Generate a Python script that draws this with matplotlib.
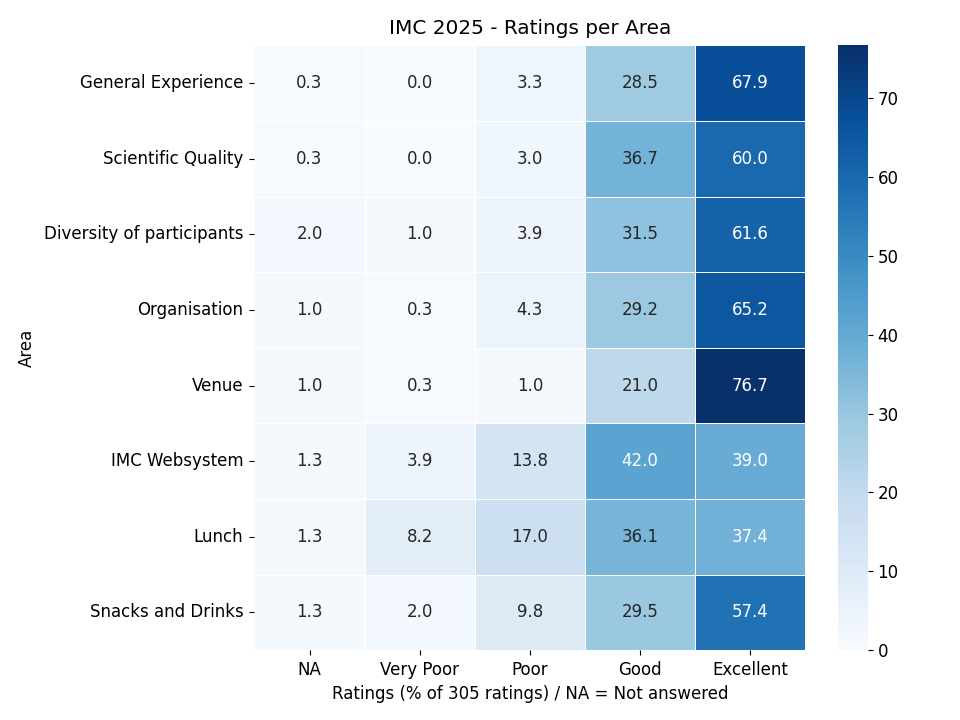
import matplotlib
matplotlib.use('Agg')
import matplotlib.pyplot as plt
import pandas as pd
import seaborn as sns

# data
areas = ['General Experience', 'Scientific Quality', 'Diversity of participants',
         'Organisation', 'Venue', 'IMC Websystem', 'Lunch', 'Snacks and Drinks']
ratings = ['NA', 'Very Poor', 'Poor', 'Good', 'Excellent']
na_vals = [0.3, 0.3, 2.0, 1.0, 1.0, 1.3, 1.3, 1.3]
very_poor = [0.0, 0.0, 1.0, 0.3, 0.3, 3.9, 8.2, 2.0]
poor = [3.3, 3.0, 3.9, 4.3, 1.0, 13.8, 17.0, 9.8]
good = [28.5, 36.7, 31.5, 29.2, 21.0, 42.0, 36.1, 29.5]
excellent = [67.9, 60.0, 61.6, 65.2, 76.7, 39.0, 37.4, 57.4]

df = pd.DataFrame(dict(zip(ratings, [na_vals, very_poor, poor, good, excellent])),
                  index=areas)
df.index.name = 'Area'

plt.rcParams['font.size'] = 12

fig = plt.figure(figsize=(9.6, 7.2), dpi=100)
ax = fig.add_axes([0.265, 0.097, 0.574, 0.84])
cax = fig.add_axes([0.873, 0.097, 0.031, 0.84])
sns.heatmap(df, annot=True, fmt='.1f', cmap='Blues', linewidths=0.5,
            linecolor='white', ax=ax, cbar_ax=cax,
            annot_kws={'fontsize': 12})
ax.set_title('IMC 2025 - Ratings per Area', fontsize=14.4, pad=8)
ax.set_xlabel('Ratings (% of 305 ratings) / NA = Not answered', fontsize=12)
ax.set_ylabel('Area', fontsize=12, labelpad=6)
ax.tick_params(labelsize=12, pad=4.5)
plt.setp(ax.get_yticklabels(), rotation=0)
plt.setp(ax.get_xticklabels(), rotation=0)
cax.tick_params(labelsize=12)
fig.savefig('out.png', dpi=100)
